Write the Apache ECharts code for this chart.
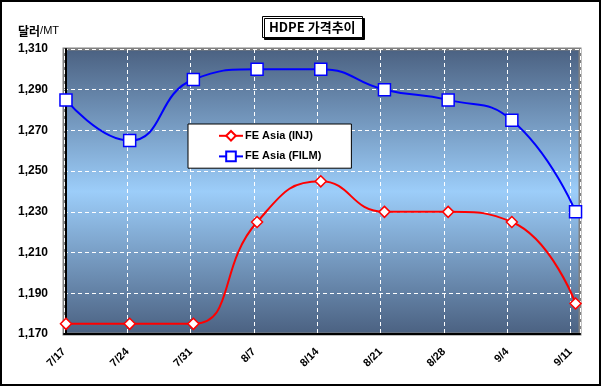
<!DOCTYPE html>
<html><head><meta charset="utf-8">
<script src="https://cdn.jsdelivr.net/npm/echarts@6/dist/echarts.min.js"></script>
<style>html,body{margin:0;padding:0;background:#fff}#c{width:601px;height:386px}</style>
</head><body><div id="c"></div>
<script>
var categories = ['7/17','7/24','7/31','8/7','8/14','8/21','8/28','9/4','9/11'];
var injValues  = [1175, 1175, 1175, 1225, 1245, 1230, 1230, 1225, 1185];
var filmValues = [1285, 1265, 1295, 1300, 1300, 1290, 1285, 1275, 1230];
var yTicks = [1170, 1190, 1210, 1230, 1250, 1270, 1290, 1310];

var chart = echarts.init(document.getElementById('c'), null, {renderer:'canvas'});
function pairs(v){ return v.map(function(y,i){ return [i,y]; }); }
var font = 'Arial, "Liberation Sans", "Noto Sans CJK KR", sans-serif';
chart.setOption({
  animation:false,
  backgroundColor:'#fff',
  title:{
    text:'HDPE 가격추이', left:262, top:16,
    padding:[5,7,4,7],
    backgroundColor:'#fff', borderColor:'#000', borderWidth:1,
    shadowColor:'#000', shadowOffsetX:2, shadowOffsetY:2, shadowBlur:0,
    textStyle:{fontSize:13, fontWeight:'bold', color:'#000', fontFamily:'"Noto Sans CJK KR", Arial, sans-serif'}
  },
  graphic:[
    {type:'rect', shape:{x:1,y:1,width:599,height:384}, style:{fill:null, stroke:'#000', lineWidth:2}, silent:true, z:100},
    {type:'text', left:18, top:25, style:{
      text:'{a|달러}{b|/MT}',
      rich:{a:{fontSize:12, fontWeight:'bold', fontFamily:'"Noto Sans CJK KR", sans-serif', fill:'#000'},
            b:{fontSize:11, fontFamily:font, fill:'#000'}}
    }}
  ],
  legend:{
    orient:'vertical', left:188, top:124,
    backgroundColor:'#fff', borderColor:'#000', borderWidth:1,
    padding:[6,30,6,30], itemGap:9, itemWidth:24, itemHeight:12,
    textStyle:{fontSize:11, fontWeight:'bold', color:'#000', fontFamily:font, padding:[0,0,0,-3]},
    data:['FE Asia (INJ)','FE Asia (FILM)']
  },
  grid:{
    left:64, right:21, top:49, bottom:52, show:true,
    borderColor:'#808080', borderWidth:3,
    backgroundColor:new echarts.graphic.LinearGradient(0,0,0,1,[
      {offset:0, color:'#4a6080'},{offset:0.5, color:'#9ccdf9'},{offset:1, color:'#4a6080'}])
  },
  xAxis:[
    {type:'value', min:-0.031, max:8.07, show:false},
    {type:'value', min:0, max:8.15, interval:1, position:'bottom',
     axisLine:{show:true, onZero:false, lineStyle:{color:'#000', width:2}},
     axisTick:{show:false},
     splitLine:{show:true, lineStyle:{color:'#fff', type:[4,3], width:1}},
     axisLabel:{rotate:45, margin:16, fontSize:11, fontWeight:'bold', color:'#000', fontFamily:font,
       showMaxLabel:false,
       formatter:function(v){ var i=Math.round(v); return Math.abs(v-i)<1e-6 && categories[i] ? categories[i] : ''; }}
    }
  ],
  yAxis:{
    type:'value', min:yTicks[0], max:yTicks[yTicks.length-1], interval:20,
    axisLine:{show:true, lineStyle:{color:'#000', width:2}},
    axisTick:{show:false},
    splitLine:{show:true, lineStyle:{color:'#fff', type:[4,3], width:1}},
    axisLabel:{margin:16, fontSize:12, fontWeight:'bold', color:'#000', fontFamily:font,
      formatter:function(v){ return v.toLocaleString('en-US'); }}
  },
  series:[
    {name:'FE Asia (INJ)', type:'line', xAxisIndex:0, data:pairs(injValues), smooth:0.5,
     symbol:'diamond', symbolSize:11, lineStyle:{color:'#ff0000', width:2},
     itemStyle:{color:'#fff', borderColor:'#ff0000', borderWidth:1.5}, color:'#ff0000', z:3},
    {name:'FE Asia (FILM)', type:'line', xAxisIndex:0, data:pairs(filmValues), smooth:0.5,
     symbol:'rect', symbolSize:12, lineStyle:{color:'#0000ff', width:2},
     itemStyle:{color:'#fff', borderColor:'#0000ff', borderWidth:1.5}, color:'#0000ff', z:3}
  ]
});
</script></body></html>
